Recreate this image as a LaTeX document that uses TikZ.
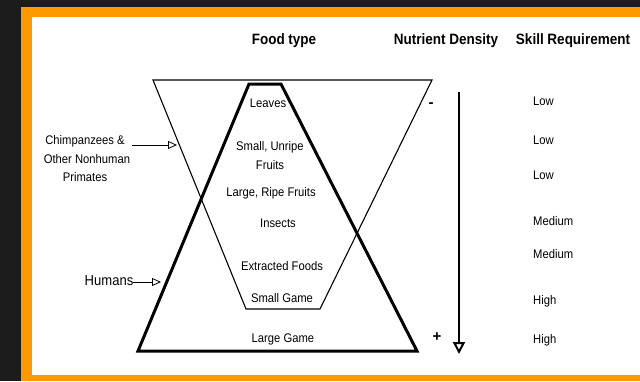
\documentclass[tikz,border=0pt]{standalone}
\usepackage{fontspec}
\setmainfont{Liberation Sans}
\newfontfamily\narrowsans[FakeStretch=0.9]{Liberation Sans}
\usetikzlibrary{arrows.meta}
\definecolor{bgdark}{HTML}{1C1C1C}
\definecolor{frameor}{HTML}{FF9900}
\begin{document}
\begin{tikzpicture}[x=1pt,y=-1pt,
  hdr/.style={font=\narrowsans\fontsize{15}{17}\selectfont\bfseries, inner sep=0pt},
  lbl/.style={font=\narrowsans\fontsize{12.5}{14}\selectfont, inner sep=0pt},
  skill/.style={lbl, anchor=west},
  signmark/.style={font=\fontsize{15}{17}\selectfont\bfseries, inner sep=0pt},
  chimpline/.style={line width=1.1pt, line join=miter},
  humanline/.style={line width=3pt, line join=miter},
  pointer/.style={line width=0.8pt, -{Triangle[open, length=9pt, width=8pt]}},
  nutrient/.style={line width=2pt, -{Triangle[open, length=12pt, width=12pt]}}]
\useasboundingbox (0,0) rectangle (640,381);
% background and frame
\fill[bgdark] (0,0) rectangle (640,381);
\fill[frameor] (21,7) rectangle (640,381);
\fill[white] (32,17) rectangle (640,375);
% headers
\node[hdr] (hfood) at (284,41) {Food type};
\node[hdr] (hnut) at (446,41) {Nutrient Density};
\node[hdr] (hskill) at (573,41) {Skill Requirement};
% shapes
\draw[chimpline] (153,80) -- (432,80) -- (320,309) -- (246,309) -- cycle;
\draw[humanline] (249,84) -- (281,84) -- (417,351) -- (138,351) -- cycle;
% food labels
\node[lbl] (leaves) at (268,103) {Leaves};
\node[lbl] (sunripe) at (270,147) {Small, Unripe};
\node[lbl] (fruits) at (270,165) {Fruits};
\node[lbl] (lripe) at (271,193) {Large, Ripe Fruits};
\node[lbl] (insects) at (278,223) {Insects};
\node[lbl] (extracted) at (282,266) {Extracted Foods};
\node[lbl] (smallgame) at (282,298) {Small Game};
\node[lbl] (largegame) at (283,339) {Large Game};
% side labels
\node[lbl] (chimp1) at (85,141) {Chimpanzees \&};
\node[lbl] (chimp2) at (87,159) {Other Nonhuman};
\node[lbl] (chimp3) at (85,177) {Primates};
\node[lbl, font=\narrowsans\fontsize{14.5}{16}\selectfont] (humans) at (109,281) {Humans};
\coordinate (chimptip) at (177,145);
\coordinate (humantip) at (161,282);
\draw[pointer] ([xshift=7pt]chimp1.east |- chimptip) -- (chimptip);
\draw[pointer] (humans.east |- humantip) -- (humantip);
% nutrient density arrow
\coordinate (ntop) at (459,92);
\coordinate (nbot) at (459,354);
\draw[nutrient] (ntop) -- (nbot);
\node[signmark] (minus) at (431,105) {-};
\node[signmark] (plus) at (437,337) {+};
% skill requirement
\node[skill] (s1) at (533,101) {Low};
\node[skill] (s2) at (533,140) {Low};
\node[skill] (s3) at (533,175) {Low};
\node[skill] (s4) at (533,221) {Medium};
\node[skill] (s5) at (533,254) {Medium};
\node[skill] (s6) at (533,301) {High};
\node[skill] (s7) at (533,340) {High};
\end{tikzpicture}
\end{document}
